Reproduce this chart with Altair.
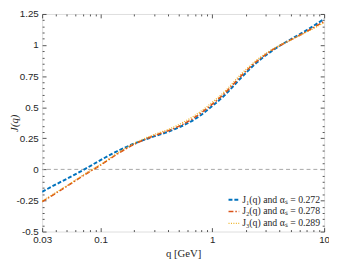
import altair as alt
import pandas as pd

# ---- data ----
q = [0.03, 0.04, 0.05, 0.07, 0.1, 0.14, 0.2, 0.3, 0.4, 0.5, 0.7, 1.0, 1.3, 1.8, 2.5, 3.5, 5.0, 7.0, 10]
J1 = [-0.18, -0.12, -0.075, -0.005, 0.075, 0.145, 0.208, 0.265, 0.302, 0.337, 0.405, 0.51, 0.60, 0.735, 0.86, 0.96, 1.045, 1.12, 1.21]
J2 = [-0.26, -0.19, -0.135, -0.05, 0.035, 0.122, 0.202, 0.27, 0.31, 0.346, 0.42, 0.525, 0.615, 0.75, 0.87, 0.965, 1.04, 1.11, 1.19]
J3 = [-0.255, -0.185, -0.13, -0.045, 0.04, 0.128, 0.21, 0.28, 0.32, 0.36, 0.435, 0.54, 0.63, 0.765, 0.88, 0.97, 1.04, 1.105, 1.18]

labels = ["J₁(q) and αₛ = 0.272", "J₂(q) and αₛ = 0.278", "J₃(q) and αₛ = 0.289"]
colors = ["#0072BD", "#D95319", "#EDB120"]
dashes = [[4, 2], [5, 2, 1.5, 2], [1, 1.5]]
widths = [2.0, 1.3, 1.1]

x_major = [0.03, 0.1, 1, 10]
x_minor = [0.04, 0.05, 0.06, 0.07, 0.08, 0.09, 0.2, 0.3, 0.4, 0.5, 0.6, 0.7, 0.8, 0.9,
           2, 3, 4, 5, 6, 7, 8, 9]
y_major = [-0.5, -0.25, 0, 0.25, 0.5, 0.75, 1, 1.25]
y_minor = [-0.45, -0.4, -0.35, -0.3, -0.2, -0.15, -0.1, -0.05, 0.05, 0.1, 0.15, 0.2,
           0.3, 0.35, 0.4, 0.45, 0.55, 0.6, 0.65, 0.7, 0.8, 0.85, 0.9, 0.95,
           1.05, 1.1, 1.15, 1.2]
zero_line = [0]

rows = []
for lab, series in zip(labels, [J1, J2, J3]):
    for qq, jj in zip(q, series):
        rows.append({"q": qq, "J": jj, "series": lab})
df = pd.DataFrame(rows)

W, H = 289, 223
AX = "#262626"
SANS = "Liberation Sans"
SERIF = "Liberation Serif"

xs = alt.Scale(type="log", domain=[0.03, 10], nice=False)
ys = alt.Scale(domain=[-0.5, 1.25], nice=False, zero=False)

base = alt.Chart(df)

legend_kw = dict(title=None, orient="none", legendX=190, legendY=184,
                 symbolType="stroke", symbolSize=120, symbolStrokeWidth=1.5,
                 labelFont=SERIF, labelFontSize=10, labelColor=AX,
                 labelLimit=200, labelOffset=2, rowPadding=0, padding=0)

lines = base.mark_line(clip=True, interpolate="monotone").encode(
    x=alt.X("q:Q", scale=xs, axis=alt.Axis(
        orient="bottom", values=x_major, labelExpr="'' + datum.value",
        tickSize=0, domain=False, grid=False, labelPadding=3,
        labelFont=SANS, labelFontSize=10, labelColor=AX, labelFlush=False,
        title="q  [GeV]", titleFont=SERIF, titleFontSize=11, titleFontWeight="normal",
        titleColor=AX, titlePadding=4)),
    y=alt.Y("J:Q", scale=ys, axis=alt.Axis(
        orient="left", values=y_major, labelExpr="'' + datum.value",
        tickSize=0, domain=False, grid=False, labelPadding=4,
        labelFont=SANS, labelFontSize=10, labelColor=AX,
        title="J(q)", titleFont=SERIF, titleFontSize=11, titleFontStyle="italic",
        titleFontWeight="normal", titleColor=AX, titleX=-34, titleBaseline="top")),
    color=alt.Color("series:N", scale=alt.Scale(domain=labels, range=colors),
                    legend=alt.Legend(**legend_kw)),
    strokeDash=alt.StrokeDash("series:N", scale=alt.Scale(domain=labels, range=dashes),
                              legend=alt.Legend(**legend_kw)),
    strokeWidth=alt.StrokeWidth("series:N", scale=alt.Scale(domain=labels, range=widths), legend=None),
)

zero = alt.Chart(pd.DataFrame({"y": zero_line})).mark_rule(
    color="#a6a6a6", strokeDash=[4, 3], strokeWidth=1
).encode(y=alt.Y("y:Q", scale=ys, axis=None))


def tick_layer(xorient, yorient, xvals, yvals, size):
    return base.mark_point(opacity=0).encode(
        x=alt.X("q:Q", scale=xs, axis=alt.Axis(
            orient=xorient, offset=-H, values=xvals, tickSize=size, tickColor=AX,
            tickWidth=0.8, labels=False, domain=False, grid=False, title=None)),
        y=alt.Y("J:Q", scale=ys, axis=alt.Axis(
            orient=yorient, offset=-W, values=yvals, tickSize=size, tickColor=AX,
            tickWidth=0.8, labels=False, domain=False, grid=False, title=None)),
    )


t1 = tick_layer("top", "right", x_major, y_major, 4)
t2 = tick_layer("top", "right", x_minor, y_minor, 2)
t3 = tick_layer("bottom", "left", x_major, y_major, 4)
t4 = tick_layer("bottom", "left", x_minor, y_minor, 2)

chart = alt.layer(zero, lines, t1, t2, t3, t4).resolve_axis(
    x="independent", y="independent"
).properties(
    width=W, height=H,
    autosize=alt.AutoSizeParams(type="none"),
    padding={"left": 35, "top": 3, "right": 5, "bottom": 25},
).configure_view(
    stroke=AX, strokeWidth=0.8
).configure(background="white")

chart.save("out.html", embed_options={"renderer": "svg", "actions": False})
